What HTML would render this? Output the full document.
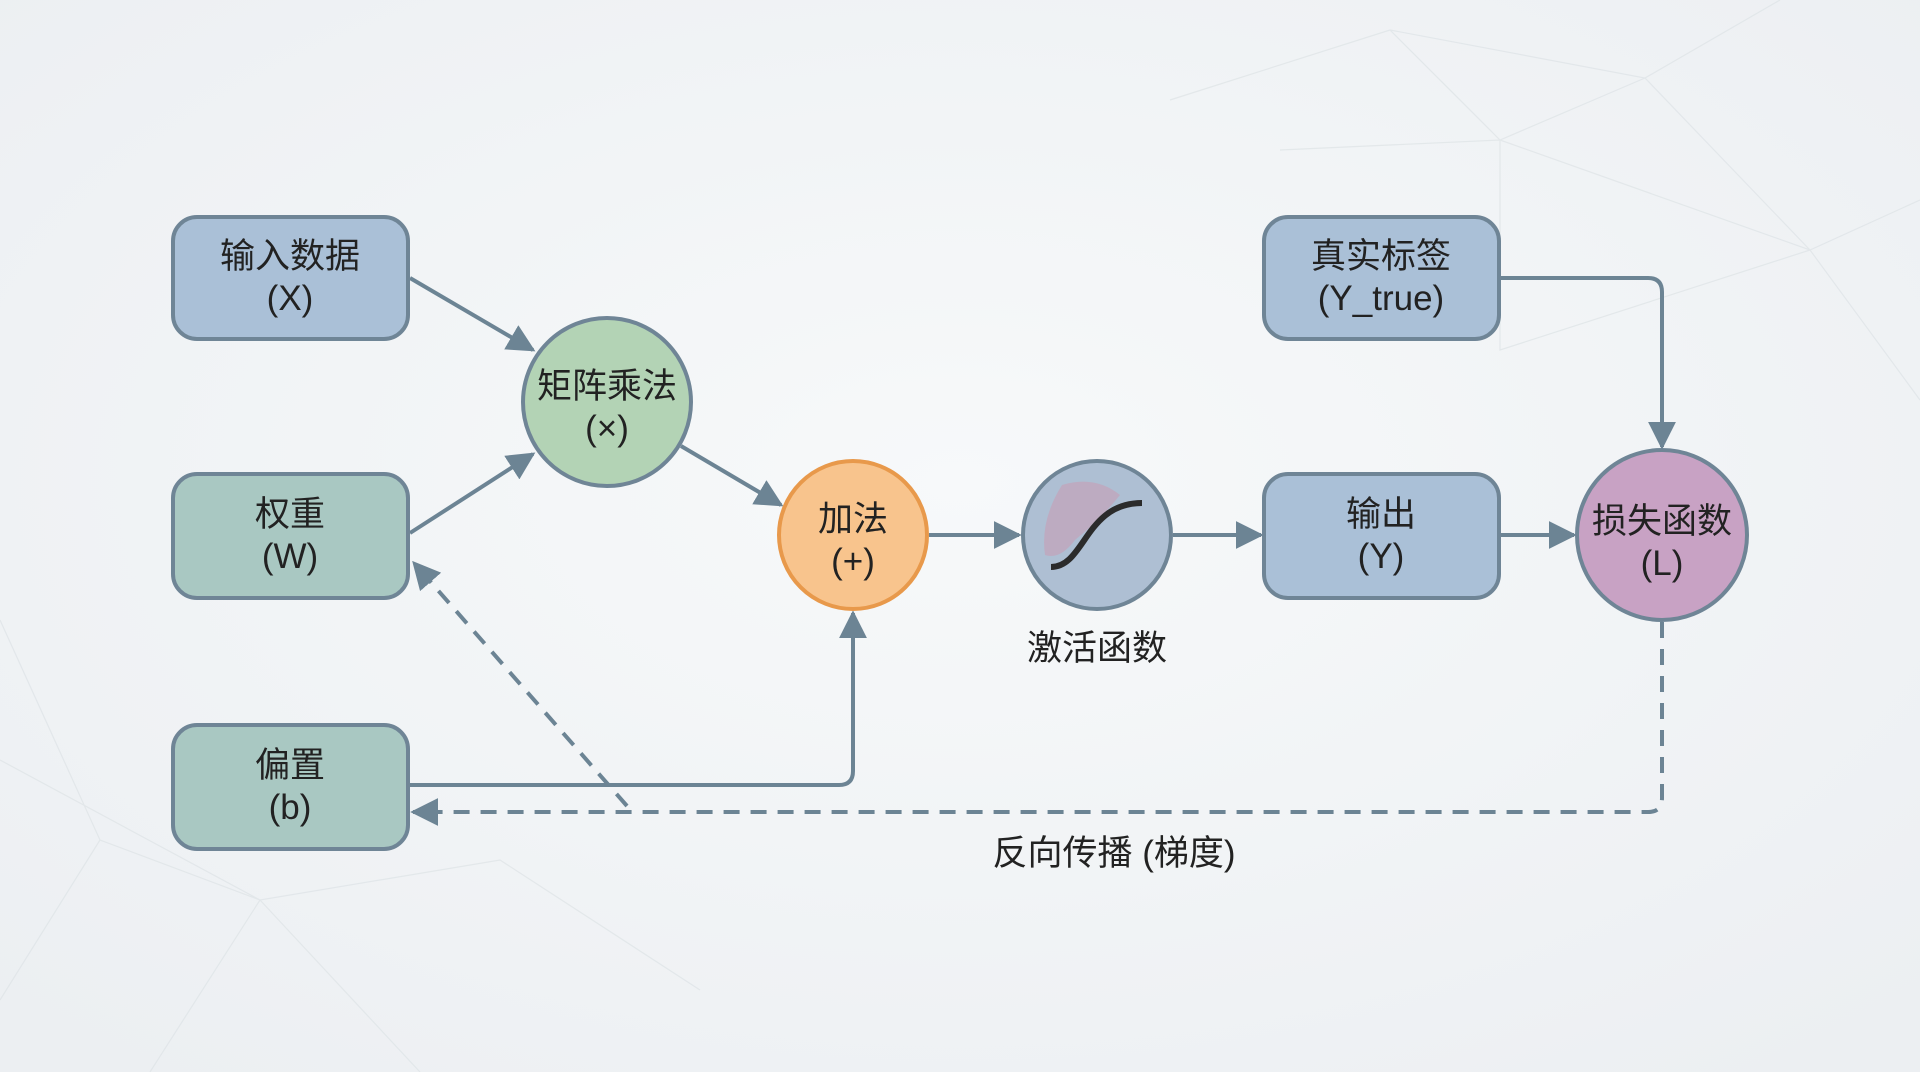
<!DOCTYPE html>
<html><head><meta charset="utf-8"><style>
html,body{margin:0;padding:0;width:1920px;height:1072px;overflow:hidden;background:#f2f5f7}
svg{display:block}
text{font-family:"Liberation Sans","Noto Sans CJK SC",sans-serif;fill:#222}
</style></head><body>
<svg width="1920" height="1072" viewBox="0 0 1920 1072" xmlns="http://www.w3.org/2000/svg">
<defs>
<radialGradient id="bg" cx="50%" cy="45%" r="70%"><stop offset="0" stop-color="#f7f9fa"/><stop offset="1" stop-color="#eceff2"/></radialGradient>
<marker id="ah" viewBox="0 0 10 10" refX="9" refY="5" markerWidth="7" markerHeight="7" orient="auto-start-reverse" markerUnits="strokeWidth"><path d="M0,0 L10,5 L0,10 z" fill="#6c8494"/></marker>
</defs>
<rect width="1920" height="1072" fill="url(#bg)"/>
<g stroke="#dde2e6" stroke-width="1.2" fill="none" opacity="0.7">
<path d="M1170,100 L1390,30 L1645,78 L1810,250 L1920,200 M1390,30 L1500,140 L1645,78 M1500,140 L1810,250 M1280,150 L1500,140 L1500,350 L1810,250 L1920,400 M1645,78 L1780,0"/>
<path d="M0,620 L100,840 L260,900 L500,860 L700,990 M100,840 L0,1000 M260,900 L150,1072 M260,900 L420,1072 M0,760 L260,900"/>
</g>
<g stroke="#6c8494" stroke-width="4" fill="none">
<line x1="410" y1="278" x2="533" y2="350" marker-end="url(#ah)"/>
<line x1="410" y1="533" x2="533" y2="454" marker-end="url(#ah)"/>
<line x1="681" y1="446" x2="781" y2="505" marker-end="url(#ah)"/>
<line x1="929" y1="535" x2="1019" y2="535" marker-end="url(#ah)"/>
<line x1="1173" y1="535" x2="1261" y2="535" marker-end="url(#ah)"/>
<line x1="1500" y1="535" x2="1574" y2="535" marker-end="url(#ah)"/>
<path d="M1500,278 H1648 Q1662,278 1662,292 V447" marker-end="url(#ah)"/>
<path d="M410,785 H839 Q853,785 853,771 V613" marker-end="url(#ah)"/>
<path d="M1662,622 V798 Q1662,812 1648,812 H413" stroke-dasharray="16,11" marker-end="url(#ah)"/>
<path d="M627,806 L414,563" stroke-dasharray="16,11" marker-end="url(#ah)"/>
</g>
<g stroke="#6f8596" stroke-width="4">
<rect x="173" y="217" width="235" height="122" rx="24" fill="#aac0d7"/>
<rect x="173" y="474" width="235" height="124" rx="24" fill="#a9c8c2"/>
<rect x="173" y="725" width="235" height="124" rx="24" fill="#a9c8c2"/>
<rect x="1264" y="217" width="235" height="122" rx="24" fill="#aac0d7"/>
<rect x="1264" y="474" width="235" height="124" rx="24" fill="#aac0d7"/>
<circle cx="607" cy="402" r="84" fill="#b3d3b5"/>
<circle cx="853" cy="535" r="74" fill="#f8c48d" stroke="#e8994b"/>
<circle cx="1097" cy="535" r="74" fill="#aebfd3"/>
<circle cx="1662" cy="535" r="85" fill="#c8a2c4"/>
</g>
<path d="M1062,485 Q1040,520 1045,555 Q1060,560 1075,540 Q1100,520 1120,495 Q1095,475 1062,485z" fill="#d48fa8" opacity="0.4"/>
<path d="M1051,567 C1085,567 1085,503 1142,503" stroke="#2b2b2b" stroke-width="6" fill="none"/>
<g font-size="35" text-anchor="middle">
<text x="290" y="268">输入数据</text><text x="290" y="310">(X)</text>
<text x="290" y="526">权重</text><text x="290" y="568">(W)</text>
<text x="290" y="777">偏置</text><text x="290" y="819">(b)</text>
<text x="607" y="398">矩阵乘法</text><text x="607" y="440">(×)</text>
<text x="853" y="531">加法</text><text x="853" y="573">(+)</text>
<text x="1381" y="268">真实标签</text><text x="1381" y="310">(Y_true)</text>
<text x="1381" y="526">输出</text><text x="1381" y="568">(Y)</text>
<text x="1662" y="533">损失函数</text><text x="1662" y="575">(L)</text>
<text x="1097" y="660">激活函数</text>
<text x="1114" y="865">反向传播 (梯度)</text>
</g>
</svg>
</body></html>
